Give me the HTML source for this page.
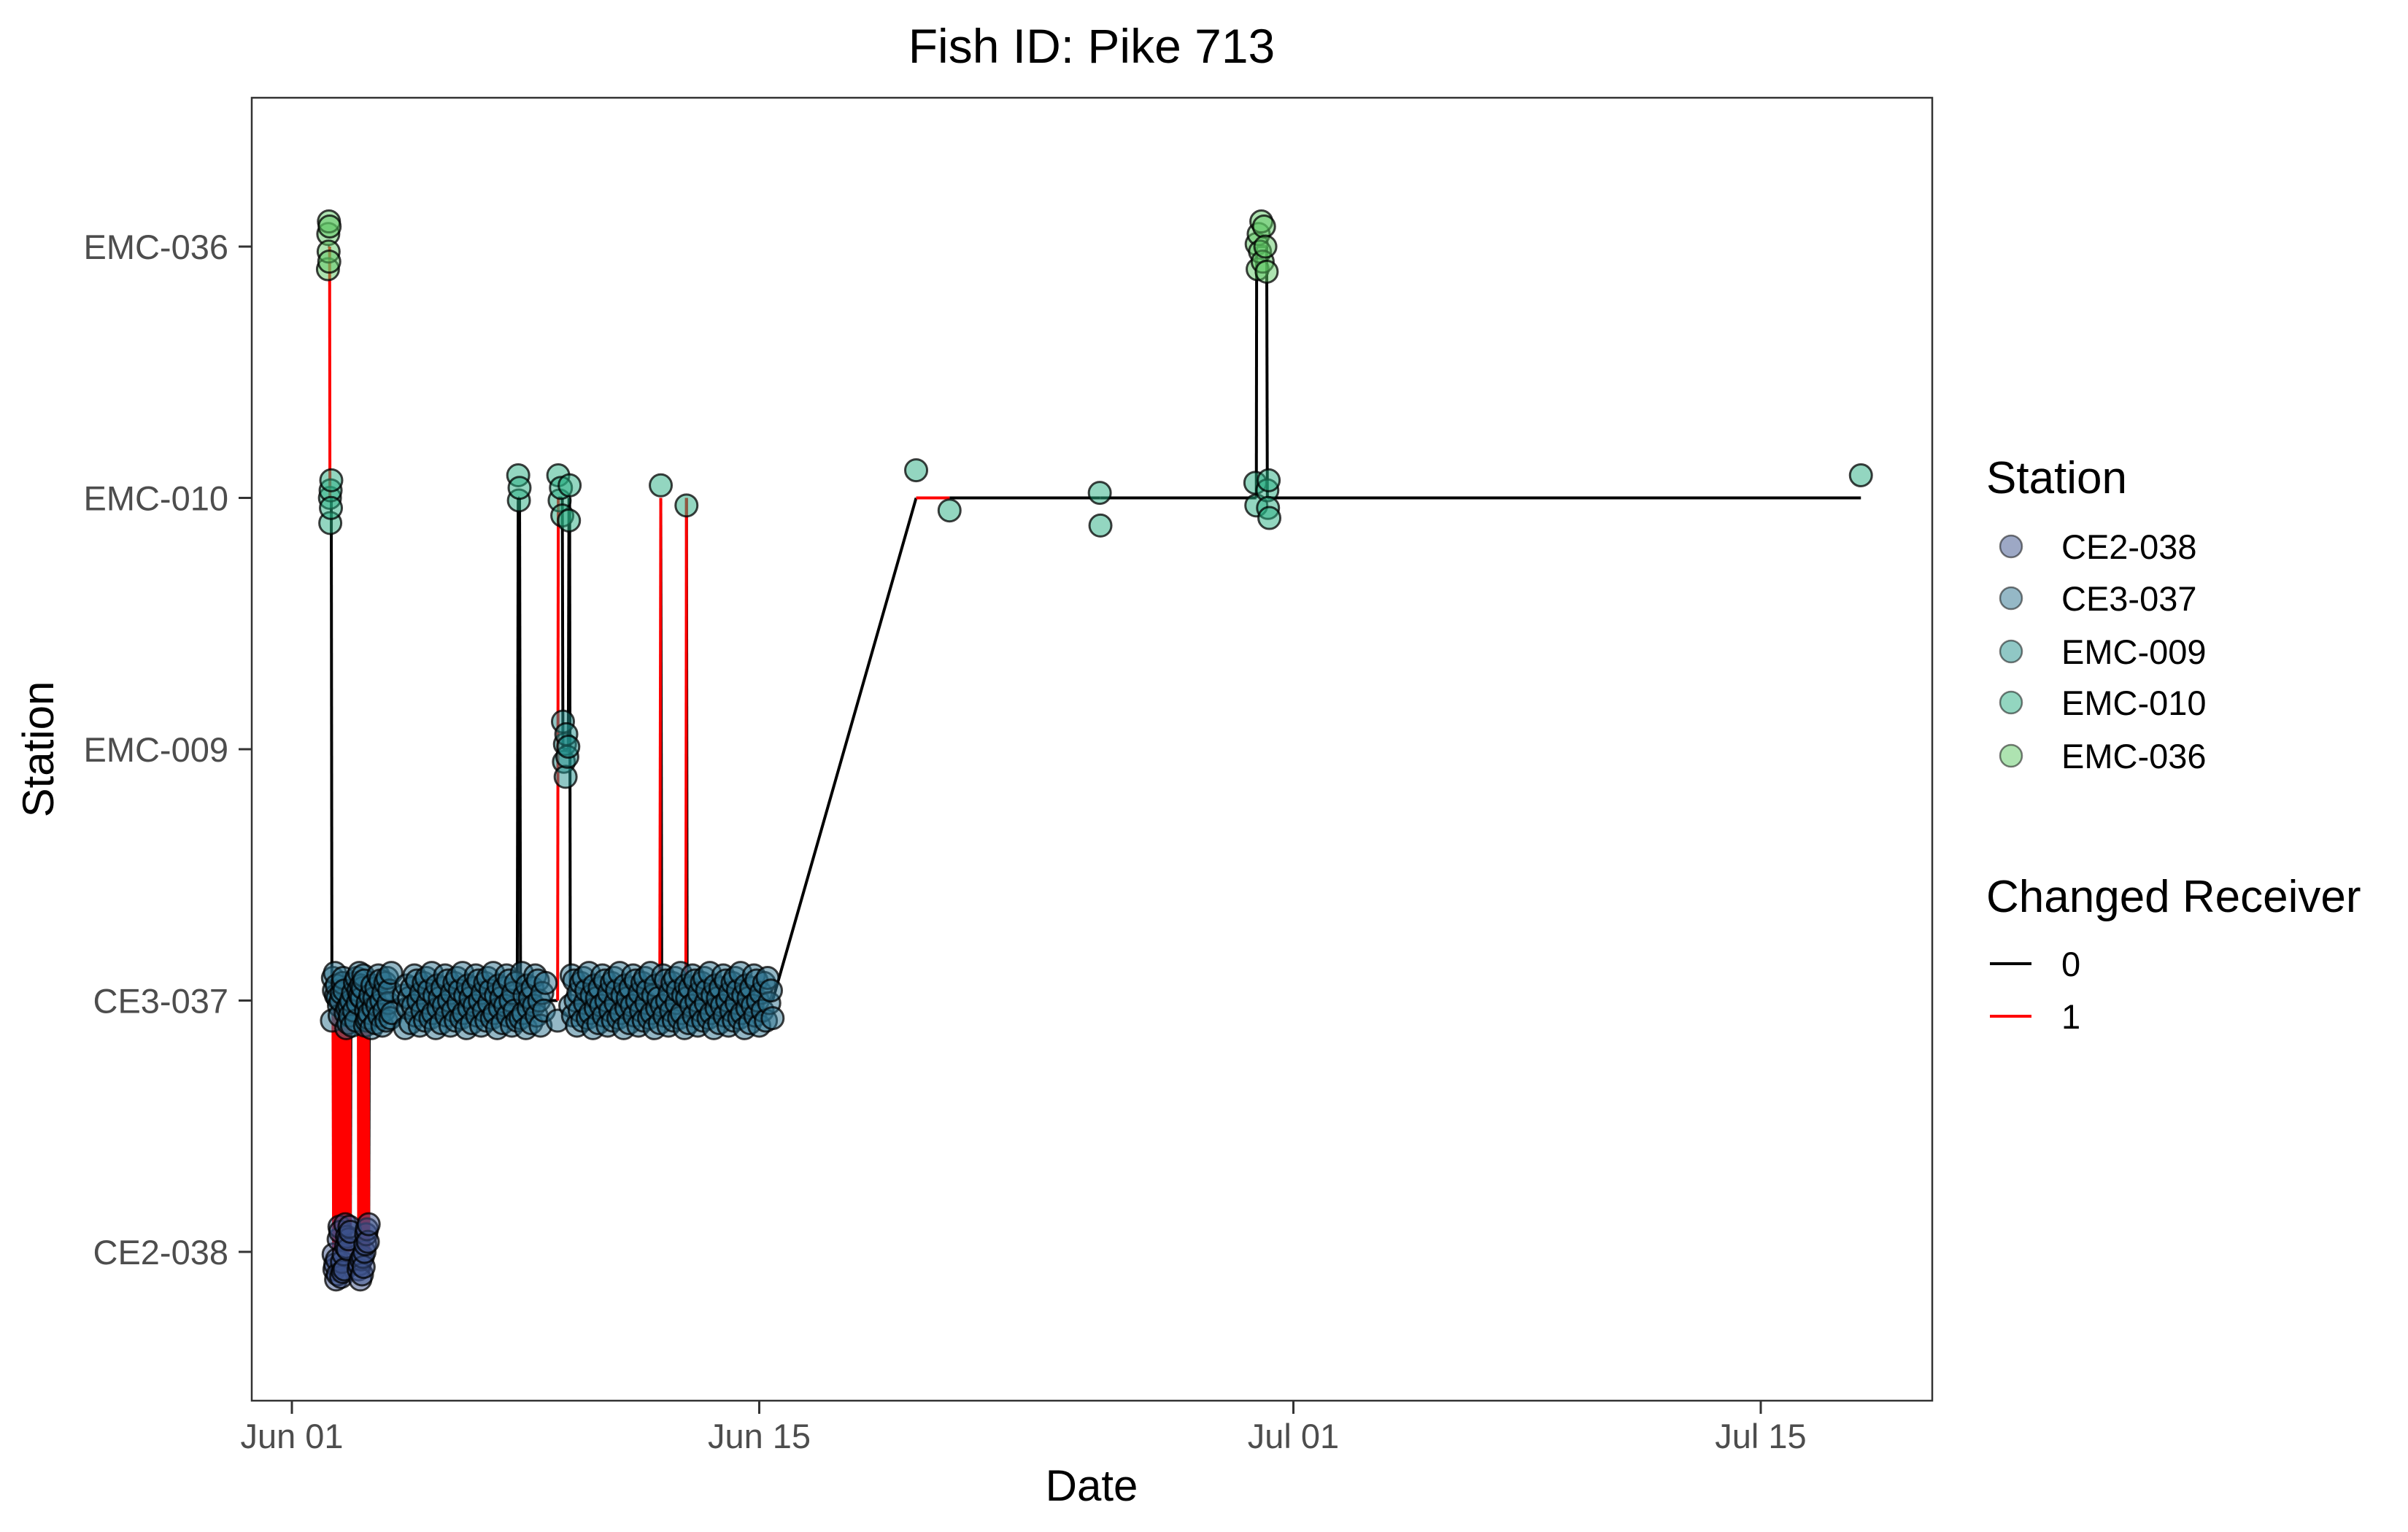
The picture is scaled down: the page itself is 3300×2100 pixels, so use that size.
<!DOCTYPE html>
<html><head><meta charset="utf-8"><style>
html,body{margin:0;padding:0;background:#fff}
svg{display:block;font-family:"Liberation Sans",Arial,sans-serif}
</style></head><body>
<svg id="chart" width="3300" height="2100" viewBox="0 0 3300 2100" xmlns="http://www.w3.org/2000/svg">
<rect width="3300" height="2100" fill="#fff"/>
<text x="1496" y="86" font-size="66" text-anchor="middle" fill="#000">Fish ID: Pike 713</text>
<g id="lines"></g>
<g id="points"></g>
<rect x="345" y="134" width="2303" height="1786" fill="none" stroke="#333" stroke-width="2.5"/>
<g id="yaxis"></g>
<g id="xaxis"></g>
<text x="1496" y="2057" font-size="60" text-anchor="middle" fill="#000">Date</text>
<text transform="translate(73,1027) rotate(-90)" font-size="60" text-anchor="middle" fill="#000">Station</text>
<g id="legend">
<text x="2722" y="676" font-size="62" fill="#000">Station</text>
<text x="2722" y="1250" font-size="62" fill="#000">Changed Receiver</text>
<line x1="2727" y1="1321" x2="2784" y2="1321" stroke="#000" stroke-width="4"/>
<text x="2825" y="1338" font-size="47" fill="#000">0</text>
<line x1="2727" y1="1393" x2="2784" y2="1393" stroke="#f00" stroke-width="4"/>
<text x="2825" y="1410" font-size="47" fill="#000">1</text>
</g>
</svg>
<script>
const stations = ["CE2-038","CE3-037","EMC-009","EMC-010","EMC-036"];
const stationColors = ["#3b528b","#2c728e","#21908c","#27ad81","#5dc863"];
const xTickDays = [0,14,30,44];
const xTickLabels = ["Jun 01","Jun 15","Jul 01","Jul 15"];
// CE3-037 detections (days since Jun 01), changed = 0
const ce3Days = [1.20,1.23,1.26,1.29,1.32,1.34,1.37,1.41,1.43,1.46,1.49,1.52,1.54,1.57,1.61,1.63,1.66,1.69,1.72,1.74,1.77,1.80,1.83,1.86,1.89,1.92,1.94,1.97,1.99,2.02,2.04,2.07,2.09,2.12,2.14,2.17,2.19,2.22,2.24,2.27,2.29,2.32,2.35,2.38,2.41,2.44,2.47,2.50,2.53,2.56,2.59,2.62,2.65,2.68,2.71,2.74,2.77,2.80,2.83,2.86,2.89,2.92,2.95,2.98,3.00,
3.35,3.39,3.43,3.47,3.51,3.55,3.59,3.63,3.67,3.71,3.75,3.79,3.83,3.87,3.91,3.95,3.99,4.03,4.07,4.11,4.15,4.19,4.23,4.27,4.31,4.35,4.39,4.43,4.47,4.51,4.55,4.59,4.63,4.67,4.71,4.75,4.79,4.83,4.87,4.91,4.95,4.99,5.03,5.07,5.11,5.15,5.19,5.23,5.27,5.31,5.35,5.39,5.43,5.47,5.51,5.55,5.59,5.63,5.67,5.71,5.75,5.79,5.83,5.87,5.91,5.95,5.99,6.03,6.07,6.11,6.15,6.19,6.23,6.27,6.31,6.35,6.39,6.43,6.47,6.51,6.55,6.59,6.63,6.67,6.71,6.75,6.85,6.89,6.93,6.97,7.01,7.05,7.09,7.13,7.17,7.21,7.25,7.29,7.33,7.37,7.41,7.45,7.5,7.55,7.6,7.96,
8.34,8.38,8.42,8.46,8.50,8.54,8.58,8.62,8.66,8.70,8.74,8.78,8.82,8.86,8.90,8.94,8.98,9.02,9.06,9.10,9.14,9.18,9.22,9.26,9.30,9.34,9.38,9.42,9.46,9.50,9.54,9.58,9.62,9.66,9.70,9.74,9.78,9.82,9.86,9.90,9.94,9.98,10.02,10.06,10.10,10.14,10.18,10.22,10.26,10.30,10.34,10.38,10.42,10.46,10.50,10.54,10.58,10.62,10.66,10.70,10.74,10.78,10.82,10.86,10.90,10.94,10.98,11.02,11.08,11.12,11.16,11.20,11.24,11.28,11.32,11.36,11.40,11.44,11.48,11.52,11.56,11.60,11.64,11.68,11.72,11.76,11.80,11.84,11.88,11.92,11.96,12.00,12.04,12.08,12.12,12.16,12.20,12.24,12.28,12.32,12.36,12.40,12.44,12.48,12.52,12.56,12.60,12.64,12.68,12.72,12.76,12.80,12.84,12.88,12.92,12.96,13.00,13.04,13.08,13.12,13.16,13.20,13.24,13.28,13.32,13.36,13.40,13.44,13.48,13.52,13.56,13.60,13.64,13.68,13.72,13.76,13.80,13.84,13.88,13.92,13.96,14.00,14.05,14.1,14.15,14.2,14.25,14.3,14.35,14.4];
// CE2-038 detections, changed = 1
const ce2Days = [1.25,1.275,1.3,1.325,1.35,1.375,1.4,1.425,1.45,1.475,1.5,1.525,1.55,1.575,1.6,1.625,1.65,1.675,1.7,1.725,1.75,2.0,2.025,2.05,2.075,2.1,2.125,2.15,2.175,2.2,2.225,2.25,2.275,2.3];
// other detections
const otherDays = [1.08,1.09,1.1,1.11,1.12,1.13,1.14,1.15,1.16,1.17,1.18,
6.78,6.8,6.82,7.98,8.02,8.06,8.1,8.12,8.15,8.18,8.2,8.22,8.25,8.28,8.3,8.32,
11.05,11.82,18.7,19.7,24.2,24.22,28.86,28.89,28.9,28.93,28.96,29.0,29.04,29.08,29.12,29.16,29.2,29.22,29.24,29.26,29.28,47.0];
const otherStations = [4,4,4,4,4,4,3,3,3,3,3,
3,3,3,3,3,3,3,2,2,2,2,2,2,2,3,3,
3,3,3,3,3,3,3,3,4,4,4,4,4,4,4,4,4,3,3,3,3,3];
const otherChanged = [0,0,0,0,0,0,1,0,0,0,0,
0,0,0,1,0,0,0,0,0,0,0,0,0,0,0,0,
1,1,0,1,0,0,0,0,0,0,0,0,0,0,0,0,0,0,0,0,0,0];
const jitterPattern = [-0.09,0.05,-0.02,0.1,-0.06,0.08,0.0,-0.1,0.03,-0.04,0.07,-0.08,0.09,-0.01,0.04,-0.07,0.11,-0.05,0.02,-0.11,0.06,-0.03,0.01];

const X0=400, XD=45.75, Y0=1716, YS=344.5;
const xs = d => X0 + XD*d;
const ys = k => Y0 - YS*k;
const NS="http://www.w3.org/2000/svg";

let det = ce3Days.map(d=>({d:d,s:1,c:0}));
ce2Days.forEach(d=>det.push({d:d,s:0,c:1}));
otherDays.forEach((d,i)=>det.push({d:d,s:otherStations[i],c:otherChanged[i]}));
det.sort((a,b)=>a.d-b.d);

const gl=document.getElementById('lines');
const segs=[];
for(let i=1;i<det.length;i++) segs.push({a:det[i-1],b:det[i]});
[0,1].forEach(col=>{
  segs.filter(s=>s.b.c===col).forEach(s=>{
    const l=document.createElementNS(NS,'line');
    l.setAttribute('x1',xs(s.a.d));l.setAttribute('y1',ys(s.a.s));
    l.setAttribute('x2',xs(s.b.d));l.setAttribute('y2',ys(s.b.s));
    l.setAttribute('stroke',col?'#ff0000':'#000');l.setAttribute('stroke-width','4');
    
    
    gl.appendChild(l);
  });
});
const gp=document.getElementById('points');
det.forEach((p,i)=>{
  const c=document.createElementNS(NS,'circle');
  c.setAttribute('cx',xs(p.d));
  c.setAttribute('cy',ys(p.s+jitterPattern[i%jitterPattern.length]));
  c.setAttribute('r','15');
  c.setAttribute('fill',stationColors[p.s]);c.setAttribute('fill-opacity','0.5');
  c.setAttribute('stroke','#000');c.setAttribute('stroke-opacity','0.75');c.setAttribute('stroke-width','3');
  
  
  gp.appendChild(c);
});
const gy=document.getElementById('yaxis');
stations.forEach((s,k)=>{
  const t=document.createElementNS(NS,'line');
  t.setAttribute('x1',327);t.setAttribute('x2',345);t.setAttribute('y1',ys(k));t.setAttribute('y2',ys(k));
  t.setAttribute('stroke','#333');t.setAttribute('stroke-width','3');
  
  
  gy.appendChild(t);
  const tx=document.createElementNS(NS,'text');
  tx.setAttribute('x',313);tx.setAttribute('y',ys(k)+17);tx.setAttribute('text-anchor','end');
  tx.setAttribute('font-size','47');tx.setAttribute('fill','#4d4d4d');tx.textContent=s;
  
  
  gy.appendChild(tx);
});
const gx=document.getElementById('xaxis');
xTickDays.forEach((d,i)=>{
  const t=document.createElementNS(NS,'line');
  t.setAttribute('x1',xs(d));t.setAttribute('x2',xs(d));t.setAttribute('y1',1920);t.setAttribute('y2',1938);
  t.setAttribute('stroke','#333');t.setAttribute('stroke-width','3');
  
  
  gx.appendChild(t);
  const tx=document.createElementNS(NS,'text');
  tx.setAttribute('x',xs(d));tx.setAttribute('y',1985);tx.setAttribute('text-anchor','middle');
  tx.setAttribute('font-size','47');tx.setAttribute('fill','#4d4d4d');tx.textContent=xTickLabels[i];
  
  
  gx.appendChild(tx);
});
const lg=document.getElementById('legend');
const legendY=[749,820,893,963,1036];
stations.forEach((s,k)=>{
  const c=document.createElementNS(NS,'circle');
  c.setAttribute('cx',2756);c.setAttribute('cy',legendY[k]);c.setAttribute('r','15');
  c.setAttribute('fill',stationColors[k]);c.setAttribute('fill-opacity','0.5');
  c.setAttribute('stroke','#000');c.setAttribute('stroke-opacity','0.5');c.setAttribute('stroke-width','2.5');
  
  
  lg.appendChild(c);
  const tx=document.createElementNS(NS,'text');
  tx.setAttribute('x',2825);tx.setAttribute('y',legendY[k]+17);tx.setAttribute('font-size','47');tx.setAttribute('fill','#000');
  tx.textContent=s;
  
  
  lg.appendChild(tx);
});
</script>
</body></html>
